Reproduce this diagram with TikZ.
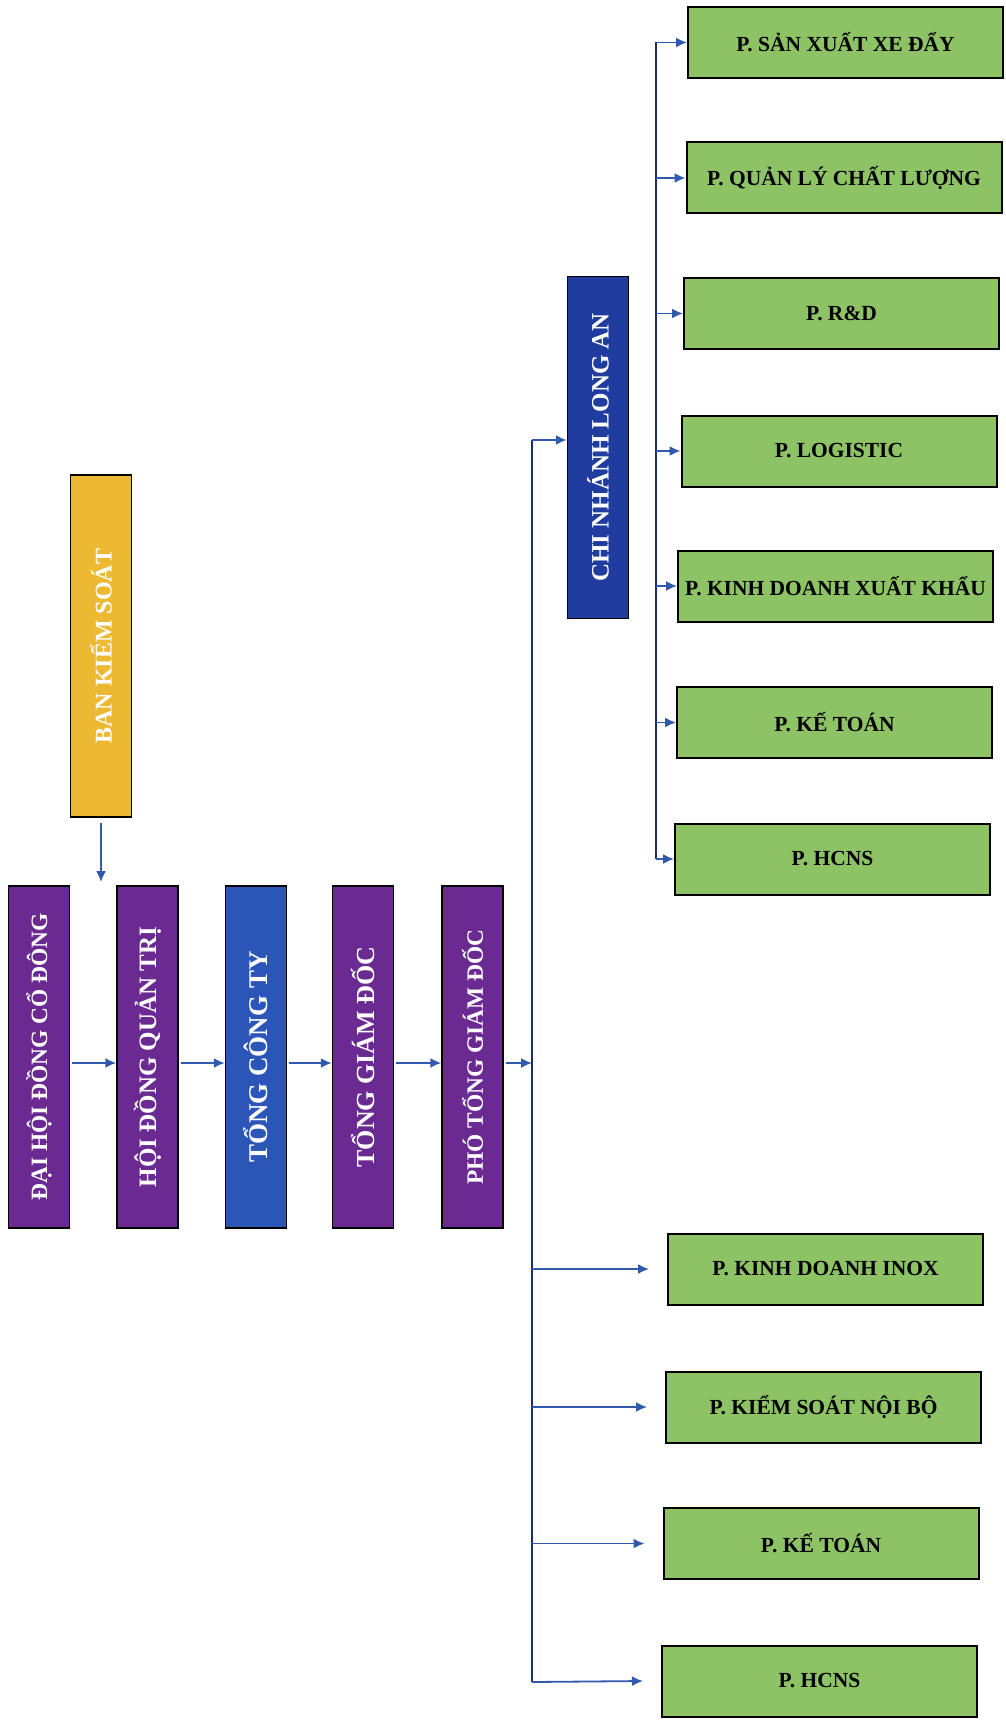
\documentclass[tikz,border=0pt]{standalone}
\usepackage{fontspec}
\setmainfont{Liberation Serif}
\usetikzlibrary{arrows.meta}
\definecolor{purp}{HTML}{6A2A92}
\definecolor{tctblue}{HTML}{2C55B8}
\definecolor{cnblue}{HTML}{1F3C9E}
\definecolor{bksyel}{HTML}{EEB932}
\definecolor{grn}{HTML}{8DC365}
\definecolor{trunkc}{HTML}{1F2F6E}
\definecolor{arrc}{HTML}{2F5AAE}
\begin{document}
\begin{tikzpicture}[x=1pt,y=-1pt,
  greenbox/.style={draw=black, line width=2pt, fill=grn, minimum width=315pt, minimum height=71pt, inner sep=0pt, text=black, font=\fontsize{21.5}{24}\selectfont\bfseries},
  vbox/.style={draw=black, line width=1.5pt, rotate=90, minimum width=342pt, minimum height=61pt, inner sep=0pt, text=white, font=\fontsize{#1}{#1}\selectfont\bfseries},
  trunk/.style={draw=trunkc, line width=1.8pt},
  arr/.style={draw=arrc, line width=1.8pt, -{Latex[length=11pt,width=10pt]}}]
\useasboundingbox (0,0) rectangle (1005,1720);

% top green group
\node[greenbox] (g1) at (845.5,42.5) {P. SẢN XUẤT XE ĐẨY};
\node[greenbox] (g2) at (844,178) {P. QUẢN LÝ CHẤT LƯỢNG};
\node[greenbox] (g3) at (841.5,313.5) {P. R\&D};
\node[greenbox] (g4) at (839,451) {P. LOGISTIC};
\node[greenbox] (g5) at (835.5,586) {P. KINH DOANH XUẤT KHẨU};
\node[greenbox] (g6) at (834.5,722.5) {P. KẾ TOÁN};
\node[greenbox] (g7) at (832.5,859) {P. HCNS};

% bottom green group
\node[greenbox] (h1) at (825.5,1269) {P. KINH DOANH INOX};
\node[greenbox] (h2) at (823.5,1407) {P. KIỂM SOÁT NỘI BỘ};
\node[greenbox] (h3) at (821,1543.5) {P. KẾ TOÁN};
\node[greenbox] (h4) at (819.5,1681) {P. HCNS};

% vertical boxes
\node[vbox=25, fill=cnblue] (cn) at (598,447.5) {CHI NHÁNH LONG AN};
\node[vbox=24, fill=bksyel] (bks) at (101,646) {BAN KIỂM SOÁT};
\node[vbox=23.4, fill=purp] (dh) at (39,1057) {ĐẠI HỘI ĐỒNG CỔ ĐÔNG};
\node[vbox=25, fill=purp] (hd) at (147.5,1057) {HỘI ĐỒNG QUẢN TRỊ};
\node[vbox=27, fill=tctblue] (tct) at (256,1057) {TỔNG CÔNG TY};
\node[vbox=26, fill=purp] (tgd) at (363,1057) {TỔNG GIÁM ĐỐC};
\node[vbox=23.4, fill=purp] (ptgd) at (472.5,1057) {PHÓ TỔNG GIÁM ĐỐC};

% coordinates
\coordinate (row) at (0,1063);
\coordinate (tTop) at (532,440);
\coordinate (tBot) at (532,1682);
\coordinate (vTop) at (656,42.5);
\coordinate (vBot) at (656,859);
\coordinate (bksend) at (101,882);

% BKS arrow (west anchor is the bottom of the rotated box)
\draw[arr] ([yshift=-5pt]bks.west) -- (bks.west |- bksend);

% horizontal chain (south = right side, north = left side of rotated boxes)
\draw[arr] ([xshift=2pt]dh.south |- row) -- (hd.north |- row);
\draw[arr] ([xshift=2pt]hd.south |- row) -- (tct.north |- row);
\draw[arr] ([xshift=2pt]tct.south |- row) -- (tgd.north |- row);
\draw[arr] ([xshift=2pt]tgd.south |- row) -- (ptgd.north |- row);
\draw[arr] ([xshift=2pt]ptgd.south |- row) -- (tTop |- row);

% trunk
\draw[trunk] (tTop) -- (tBot);
\draw[arr] (tTop) -- (cn.north |- tTop);
\draw[arr] (tTop |- h1.west) -- ([xshift=-18pt]h1.west);
\draw[arr] (tTop |- h2.west) -- ([xshift=-18pt]h2.west);
\draw[arr] (tTop |- h3.west) -- ([xshift=-18pt]h3.west);
\draw[arr] (tBot) -- ([xshift=-18pt]h4.west);

% top vertical
\draw[trunk] (vTop) -- (vBot);
\foreach \g in {g1,g2,g3,g4,g5,g6,g7}
  \draw[arr] (vTop |- \g.west) -- (\g.west);
\end{tikzpicture}
\end{document}
